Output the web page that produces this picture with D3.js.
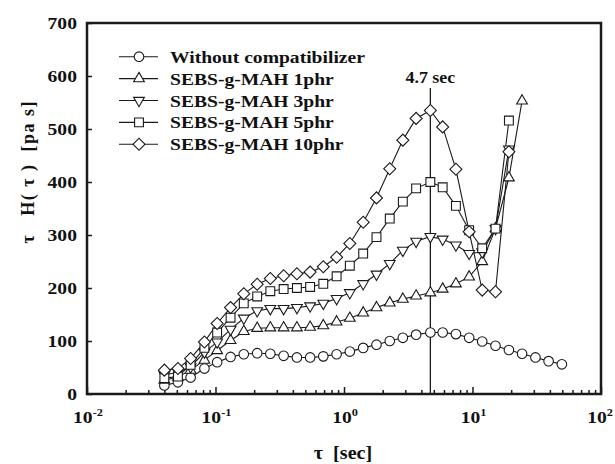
<!DOCTYPE html>
<html>
<head>
<meta charset="utf-8">
<script src="https://cdn.jsdelivr.net/npm/d3@7"></script>
<style>
  html, body { margin: 0; padding: 0; background: #fff; }
  svg text { font-family: "Liberation Serif", "Times New Roman", serif; font-weight: bold; fill: #111; }
</style>
</head>
<body>
<svg id="chart" width="615" height="464"></svg>
<script>
// relaxation times (sec), shared by all series
const tau = [0.04, 0.051, 0.064, 0.082, 0.103, 0.131, 0.166, 0.211, 0.267, 0.339,
  0.43, 0.545, 0.69, 0.876, 1.11, 1.41, 1.79, 2.27, 2.87, 3.64,
  4.7, 5.86, 7.43, 9.42, 11.9, 15.1, 19.2, 24.3, 30.9, 39.1, 49.6];

const withoutComp = [16, 22, 31, 48, 60, 70, 75, 77, 76, 72, 69, 69, 71, 75, 80, 87,
  93, 100, 106, 112, 116, 116, 113, 106, 99, 91, 83, 76, 69, 62, 56];
const mah1 = [26, 32, 45, 64, 82, 101, 118, 124, 125, 125, 125, 126, 129, 136, 143,
  153, 163, 172, 179, 185, 191, 198, 208, 221, 250, 312, 408, 553];
const mah3 = [36, 41, 51, 79, 98, 122, 143, 157, 161, 161, 163, 166, 171, 180, 191,
  208, 226, 246, 271, 288, 297, 292, 281, 265, 268, 312, 462];
const mah5 = [30, 33, 55, 87, 116, 144, 171, 184, 194, 198, 200, 202, 208, 222, 242,
  265, 296, 331, 363, 388, 400, 390, 355, 309, 275, 312, 516];
const mah10 = [45, 48, 67, 98, 133, 163, 189, 207, 218, 223, 227, 230, 240, 258, 284,
  324, 370, 425, 479, 520, 535, 504, 424, 306, 196, 193, 457];

const seriesNames = ["Without compatibilizer", "SEBS-g-MAH 1phr", "SEBS-g-MAH 3phr",
  "SEBS-g-MAH 5phr", "SEBS-g-MAH 10phr"];
const yTicks = [0, 100, 200, 300, 400, 500, 600, 700];
const xDecades = [0.01, 0.1, 1, 10, 100];
const xDecadeExp = ["-2", "-1", "0", "1", "2"];
const peakTau = 4.7;
const peakLabel = "4.7 sec";

const svg = d3.select("#chart");
const ink = "#1a1a1a";
const stretch = 1.12;
const fontSize = 17.5;

const x = d3.scaleLog().domain([0.01, 100]).range([87, 601]);
const y = d3.scaleLinear().domain([0, 700]).range([394, 23]);

const shapes = [
  { type: d3.symbolCircle, size: 72, rot: 0 },
  { type: d3.symbolTriangle, size: 50, rot: 0 },
  { type: d3.symbolTriangle, size: 50, rot: 180 },
  { type: d3.symbolSquare, size: 78, rot: 0 },
  { type: d3.symbolSquare, size: 72, rot: 45 },
];
const seriesValues = [withoutComp, mah1, mah3, mah5, mah10];
const series = seriesValues.map((vals, i) => ({
  name: seriesNames[i],
  shape: shapes[i],
  points: vals.map((v, k) => ({ t: tau[k], v })),
}));

// minor + major ticks on x
const minorTicks = [];
xDecades.slice(0, -1).forEach((d) => {
  for (let m = 2; m <= 9; m += 1) minorTicks.push(d * m);
});

svg.append("g")
  .attr("transform", "translate(0,394)")
  .call(d3.axisBottom(x).tickValues(minorTicks).tickSize(-4).tickFormat(""))
  .call((g) => g.select(".domain").remove())
  .call((g) => g.selectAll("line").attr("stroke", ink).attr("stroke-width", 1.5));

svg.append("g")
  .attr("transform", "translate(0,394)")
  .call(d3.axisBottom(x).tickValues(xDecades).tickSize(-7).tickFormat(""))
  .call((g) => g.select(".domain").remove())
  .call((g) => g.selectAll("line").attr("stroke", ink).attr("stroke-width", 1.5));

const yAxis = svg.append("g")
  .attr("transform", "translate(87,0)")
  .call(d3.axisLeft(y).tickValues(yTicks).tickSize(-5).tickPadding(9))
  .call((g) => g.select(".domain").remove())
  .call((g) => g.selectAll("line").attr("stroke", ink).attr("stroke-width", 1.5));
yAxis.selectAll("text")
  .attr("font-size", fontSize)
  .attr("font-family", null)
  .attr("fill", ink)
  .attr("dy", "0.34em")
  .attr("transform", `scale(${stretch},1)`);

// decade labels with superscripts
const xLab = svg.append("g");
xDecades.forEach((d, i) => {
  const t = xLab.append("text")
    .attr("transform", `translate(${Math.min(x(d) + 1, 600)},423) scale(${stretch},1)`)
    .attr("text-anchor", "middle")
    .attr("font-size", fontSize);
  t.append("tspan").text("10");
  t.append("tspan").attr("dy", -7).attr("font-size", 11).text(xDecadeExp[i]);
});

// frame
svg.append("rect")
  .attr("x", x(0.01)).attr("y", y(700))
  .attr("width", x(100) - x(0.01)).attr("height", y(0) - y(700))
  .attr("fill", "none").attr("stroke", ink).attr("stroke-width", 2.5);

// peak marker line
svg.append("line")
  .attr("x1", x(peakTau)).attr("x2", x(peakTau))
  .attr("y1", 88).attr("y2", y(0))
  .attr("stroke", ink).attr("stroke-width", 1.3);
svg.append("text")
  .attr("transform", `translate(${x(peakTau)},83) scale(${stretch},1)`)
  .attr("text-anchor", "middle")
  .attr("font-size", 16)
  .text(peakLabel);

const line = d3.line().x((d) => x(d.t)).y((d) => y(d.v));
const sym = (s) => d3.symbol().type(s.type).size(s.size)();

const plot = svg.append("g");
series.forEach((s) => {
  plot.append("path")
    .datum(s.points)
    .attr("d", line)
    .attr("fill", "none")
    .attr("stroke", ink)
    .attr("stroke-width", 1.1);
});
series.forEach((s) => {
  plot.append("g")
    .selectAll("path")
    .data(s.points)
    .join("path")
    .attr("d", sym(s.shape))
    .attr("transform", (d) => `translate(${x(d.t)},${y(d.v)}) rotate(${s.shape.rot})`)
    .attr("fill", "#fff")
    .attr("stroke", ink)
    .attr("stroke-width", 1.1);
});

// legend
const legend = svg.append("g");
series.forEach((s, i) => {
  const cy = 56.7 + i * 21.9;
  legend.append("line")
    .attr("x1", 119).attr("x2", 158).attr("y1", cy).attr("y2", cy)
    .attr("stroke", ink).attr("stroke-width", 1.1);
  legend.append("path")
    .attr("d", sym(s.shape))
    .attr("transform", `translate(139,${cy}) rotate(${s.shape.rot})`)
    .attr("fill", "#fff").attr("stroke", ink).attr("stroke-width", 1.1);
  legend.append("text")
    .attr("transform", `translate(170,${cy + 6}) scale(${stretch},1)`)
    .attr("font-size", fontSize)
    .text(s.name);
});

// axis titles
svg.append("text")
  .attr("transform", `translate(343,459) scale(${stretch},1)`)
  .attr("text-anchor", "middle")
  .attr("font-size", 18)
  .style("white-space", "pre")
  .text("τ  [sec]");

svg.append("text")
  .attr("transform", "translate(34,100) rotate(-90)")
  .attr("text-anchor", "end")
  .attr("font-size", 18)
  .attr("letter-spacing", 1.5)
  .style("white-space", "pre")
  .text("τ   H( τ )  [pa s]");
</script>
</body>
</html>
